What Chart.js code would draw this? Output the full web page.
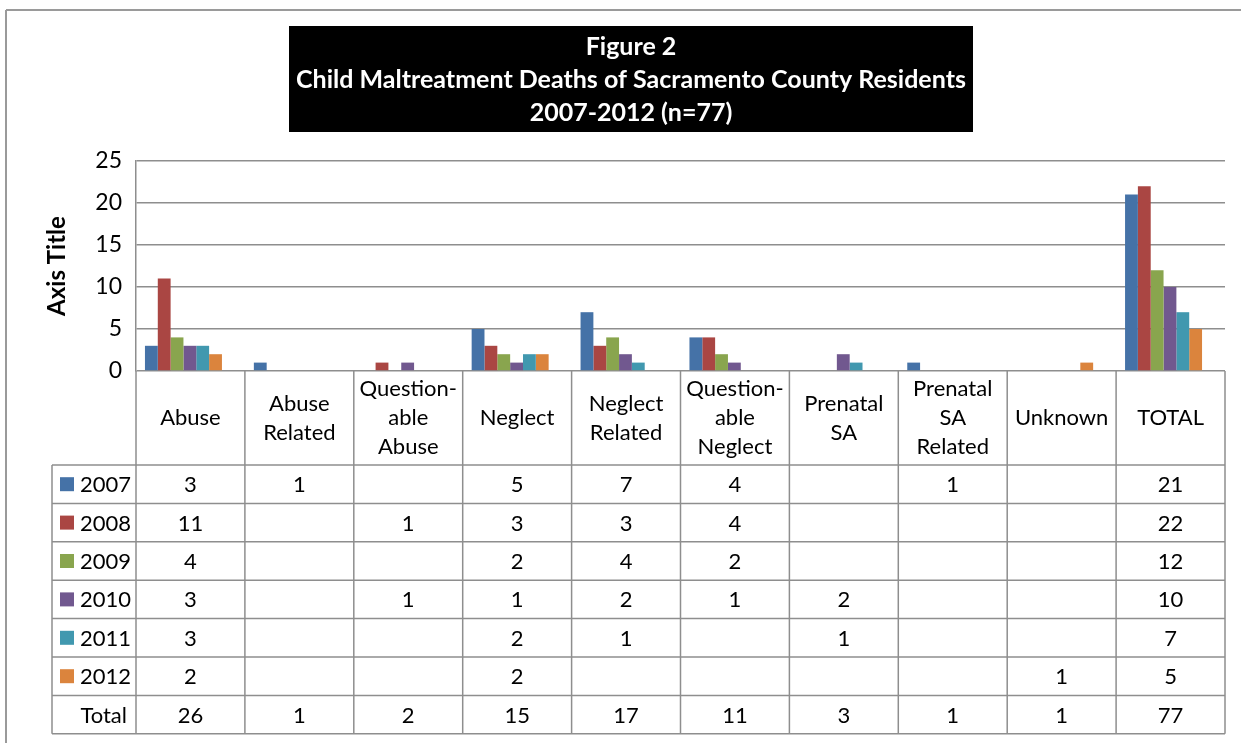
<!DOCTYPE html>
<html>
<head>
<meta charset="utf-8">
<script src="https://cdn.jsdelivr.net/npm/chart.js@4"></script>
<style>
  html, body { margin: 0; padding: 0; background: #fff; }
  #wrap { width: 1241px; height: 743px; }
</style>
</head>
<body>
<div id="wrap"><canvas id="deathsChart" width="1241" height="743"></canvas></div>
<script>
// Child maltreatment deaths by category and year
var categories = [
  ['Abuse'], ['Abuse', 'Related'], ['Question-', 'able', 'Abuse'], ['Neglect'],
  ['Neglect', 'Related'], ['Question-', 'able', 'Neglect'], ['Prenatal', 'SA'],
  ['Prenatal', 'SA', 'Related'], ['Unknown'], ['TOTAL']
];
var years = ['2007', '2008', '2009', '2010', '2011', '2012'];
var deaths2007 = [3, 1, null, 5, 7, 4, null, 1, null, 21];
var deaths2008 = [11, null, 1, 3, 3, 4, null, null, null, 22];
var deaths2009 = [4, null, null, 2, 4, 2, null, null, null, 12];
var deaths2010 = [3, null, 1, 1, 2, 1, 2, null, null, 10];
var deaths2011 = [3, null, null, 2, 1, null, 1, null, null, 7];
var deaths2012 = [2, null, null, 2, null, null, null, null, 1, 5];
var yTicks = [0, 5, 10, 15, 20, 25];
var titleLines = [
  'Figure 2',
  'Child Maltreatment Deaths of Sacramento County Residents',
  '2007-2012 (n=77)'
];

var series = [deaths2007, deaths2008, deaths2009, deaths2010, deaths2011, deaths2012];
var yearColors = ['#4572A7', '#AA4643', '#89A54E', '#71588F', '#4198AF', '#DB843D'];
var lineColor = '#8e8e8e';
var fontFamily = 'Lato, "Open Sans", sans-serif';

// column totals for the bottom row of the table
var totals = categories.map(function (c, i) {
  return series.reduce(function (s, arr) { return s + (arr[i] || 0); }, 0);
});

function hline(ctx, x1, x2, y) {
  ctx.beginPath(); ctx.moveTo(x1, y); ctx.lineTo(x2, y); ctx.stroke();
}
function vline(ctx, x, y1, y2) {
  ctx.beginPath(); ctx.moveTo(x, y1); ctx.lineTo(x, y2); ctx.stroke();
}

// title box, outer frame and the data table under the plot
var figureTable = {
  id: 'figureTable',
  beforeDatasetsDraw: function (chart) {
    chart.ctx.save();
    chart.ctx.translate(-7, 0);
  },
  afterDatasetsDraw: function (chart) {
    chart.ctx.restore();
  },
  afterDraw: function (chart) {
    var ctx = chart.ctx;
    var xs = chart.scales.x;
    var area = chart.chartArea;
    var half = (xs.getPixelForValue(1) - xs.getPixelForValue(0)) / 2;
    var rowsTop = 465;
    var rowH = 38.4;
    var nRows = years.length + 1;
    var bottom = rowsTop + nRows * rowH;
    var keyLeft = 52;

    ctx.save();

    // outer frame
    ctx.strokeStyle = '#9a9a9a';
    ctx.lineWidth = 2;
    hline(ctx, 6, chart.width, 10);
    vline(ctx, 6, 10, chart.height);

    // title box
    ctx.fillStyle = '#000';
    ctx.fillRect(289, 26, 684, 106);
    ctx.fillStyle = '#fff';
    ctx.font = 'bold 25px ' + fontFamily;
    ctx.textAlign = 'center';
    ctx.textBaseline = 'middle';
    titleLines.forEach(function (t, i) {
      ctx.fillText(t, 631, 47 + i * 33);
    });

    // grid of the table
    ctx.strokeStyle = lineColor;
    ctx.lineWidth = 1.5;
    for (var i = 0; i <= categories.length; i++) {
      var bx = xs.getPixelForValue(0) - half + i * 2 * half;
      vline(ctx, bx, area.bottom, bottom);
    }
    vline(ctx, keyLeft, rowsTop, bottom);
    for (var r = 0; r <= nRows; r++) {
      hline(ctx, keyLeft, area.right, rowsTop + r * rowH);
    }

    // category labels
    ctx.fillStyle = '#000';
    ctx.font = '22px ' + fontFamily;
    var catMid = (area.bottom + rowsTop) / 2;
    categories.forEach(function (lines, i) {
      var cx = xs.getPixelForValue(i);
      var y0 = catMid - (lines.length - 1) * 29 / 2;
      lines.forEach(function (l, k) {
        ctx.fillText(l, cx, y0 + k * 29);
      });
    });

    // year rows with legend keys
    series.forEach(function (arr, r) {
      var cy = rowsTop + r * rowH + rowH / 2;
      ctx.fillStyle = yearColors[r];
      ctx.fillRect(60, cy - 7, 14, 14);
      ctx.fillStyle = '#000';
      ctx.textAlign = 'left';
      ctx.fillText(years[r], 80, cy + 1);
      ctx.textAlign = 'center';
      arr.forEach(function (v, i) {
        if (v !== null) ctx.fillText(String(v), xs.getPixelForValue(i), cy + 1);
      });
    });

    // total row
    var ty = rowsTop + years.length * rowH + rowH / 2;
    ctx.textAlign = 'right';
    ctx.fillText('Total', 127, ty + 1);
    ctx.textAlign = 'center';
    totals.forEach(function (v, i) {
      ctx.fillText(String(v), xs.getPixelForValue(i), ty + 1);
    });

    ctx.restore();
  }
};

var ctx = document.getElementById('deathsChart').getContext('2d');
var deathsChart = new Chart(ctx, {
  type: 'bar',
  data: {
    labels: categories.map(function (c) { return c.join(' '); }),
    datasets: years.map(function (y, i) {
      return {
        label: y,
        data: series[i],
        backgroundColor: yearColors[i],
        categoryPercentage: 0.707,
        barPercentage: 1.0
      };
    })
  },
  options: {
    responsive: false,
    animation: false,
    layout: { padding: { left: 43, right: 16, top: 161, bottom: 372 } },
    plugins: {
      legend: { display: false },
      tooltip: { enabled: false }
    },
    scales: {
      x: { display: false },
      y: {
        min: yTicks[0],
        max: yTicks[yTicks.length - 1],
        ticks: {
          stepSize: yTicks[1] - yTicks[0],
          color: '#000',
          padding: 14,
          font: { family: fontFamily, size: 23 }
        },
        grid: { color: lineColor, lineWidth: 1.5, drawTicks: false },
        border: { color: lineColor, width: 1.5 },
        title: {
          display: true,
          text: 'Axis Title',
          color: '#000',
          padding: 0,
          font: { family: fontFamily, size: 24, weight: 'bold' }
        },
        afterFit: function (scale) { scale.width = 93; }
      }
    }
  },
  plugins: [figureTable]
});
</script>
</body>
</html>
